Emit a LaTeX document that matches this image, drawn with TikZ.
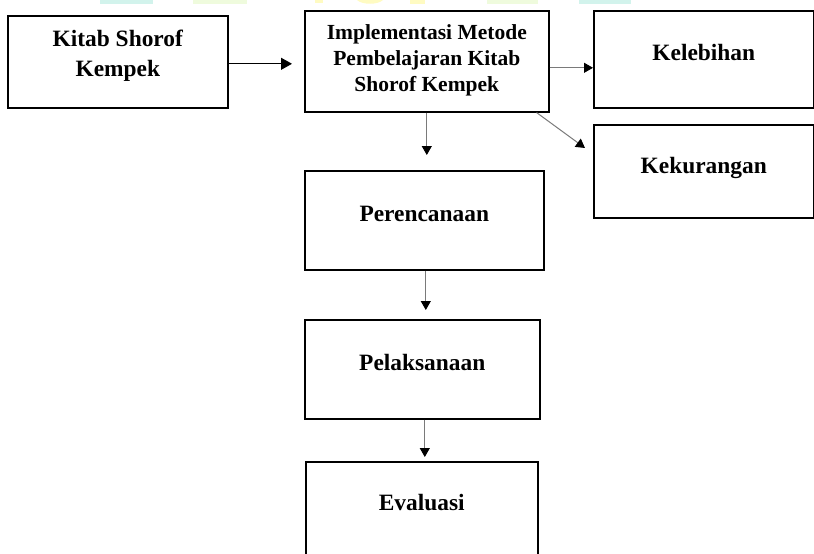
\documentclass[tikz,border=0pt]{standalone}
\usepackage{fontspec}
\setmainfont{Liberation Serif}
\usetikzlibrary{arrows.meta,calc}
\definecolor{wmcyan}{HTML}{D2F3EC}
\definecolor{wmgreen}{HTML}{EFFBDD}
\definecolor{wmyellow}{HTML}{FFFBC2}
\definecolor{arrgray}{HTML}{7A7A7A}
\begin{document}
\begin{tikzpicture}[x=1pt,y=-1pt,
  boxnode/.style={draw=black, line width=1.6pt, rectangle, inner sep=0pt, anchor=north west},
  lbl/.style={font=\bfseries\fontsize{23.4}{30}\selectfont, inner sep=0pt, align=center},
  lblsmall/.style={font=\bfseries\fontsize{21.5}{26}\selectfont, inner sep=0pt, align=center},
  arr/.style={line width=1pt, draw=#1, -{Triangle[length=9pt,width=10pt,color=black]}},
  arr/.default=arrgray,
  bigtip/.style={-{Triangle[length=11pt,width=12pt,color=black]}}]
\useasboundingbox (0,0) rectangle (814,554);
% faint watermark remnants at the top edge
\fill[wmcyan] (100,0) rectangle (153,4);
\fill[wmgreen] (193,0) rectangle (247,4);
\fill[wmyellow] (315,0) rectangle (323,3);
\fill[wmyellow] (357,0) .. controls (362,5) and (378,5) .. (383,0) -- cycle;
\fill[wmyellow] (410,0) rectangle (425,4);
\fill[wmgreen] (487,0) rectangle (538,4);
\fill[wmcyan] (579,0) rectangle (631,4);

% boxes
\node[boxnode, minimum width=220pt, minimum height=92pt] (b1) at (7,15) {};
\node[boxnode, minimum width=244pt, minimum height=101pt] (b2) at (304,10) {};
\node[boxnode, minimum width=220pt, minimum height=97pt] (kel) at (593,10) {};
\node[boxnode, minimum width=220pt, minimum height=93pt] (kek) at (593,124) {};
\node[boxnode, minimum width=239pt, minimum height=99pt] (per) at (304,170) {};
\node[boxnode, minimum width=235pt, minimum height=99pt] (pel) at (304,319) {};
\node[boxnode, minimum width=232pt, minimum height=99pt] (eva) at (305,461) {};

% labels
\node[lbl] (t1) at ($(b1.north)+(0,40.6)$) {Kitab Shorof\\Kempek};
\node[lblsmall] (t2) at ($(b2.center)+(0,-0.5)$) {Implementasi Metode\\Pembelajaran Kitab\\Shorof Kempek};
\node[lbl, anchor=base] (tkel) at ($(kel.north)+(0,50)$) {Kelebihan};
\node[lbl, anchor=base] (tkek) at ($(kek.north)+(0,49)$) {Kekurangan};
\node[lbl, anchor=base] (tper) at ($(per.north)+(0,51)$) {Perencanaan};
\node[lbl, anchor=base] (tpel) at ($(pel.north)+(0,51)$) {Pelaksanaan};
\node[lbl, anchor=base] (teva) at ($(eva.north)+(0,49)$) {Evaluasi};

% connectors
\coordinate (dtip) at (585,148);
\draw[arr=black, bigtip, shorten >=12pt] ([yshift=-2pt]b1.east) -- ([yshift=-2pt]b1.east -| b2.west);
\draw[arr] ([yshift=-6.5pt]b2.east) -- ([yshift=-6.5pt]b2.east -| kel.west);
\draw[arr] ([xshift=-13pt]b2.south east) -- (dtip);
\draw[arr, shorten >=15pt] (b2.south) -- (b2.south |- per.north);
\draw[arr, shorten >=9pt] ([xshift=1.5pt]per.south) -- ([xshift=1.5pt]per.south |- pel.north);
\draw[arr, shorten >=4pt] ([xshift=2.5pt]pel.south) -- ([xshift=2.5pt]pel.south |- eva.north);
\end{tikzpicture}
\end{document}
